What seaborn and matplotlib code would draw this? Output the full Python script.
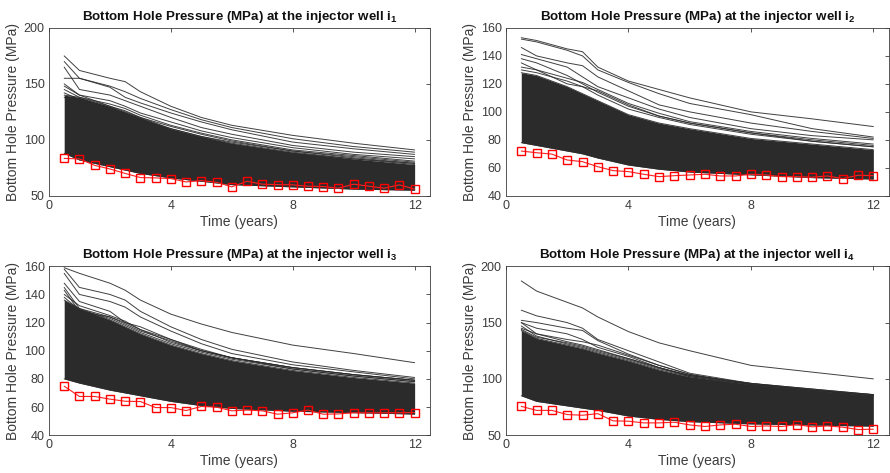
import numpy as np
import pandas as pd
import seaborn as sns
import matplotlib.pyplot as plt

# observed bottom hole pressure (red squares), every half year
t_obs = [0.5, 1, 1.5, 2, 2.5, 3, 3.5, 4, 4.5, 5, 5.5, 6,
         6.5, 7, 7.5, 8, 8.5, 9, 9.5, 10, 10.5, 11, 11.5, 12]
obs_i1 = [83.4, 83.0, 77.2, 74.0, 70.0, 66.3, 66.0, 65.4, 62.4, 63.6, 62.1, 58.0,
          63.0, 60.4, 60.0, 59.8, 58.6, 58.3, 56.8, 60.4, 58.6, 56.8, 59.8, 56.0]
obs_i2 = [72.0, 70.8, 69.8, 65.6, 64.4, 60.8, 58.0, 57.3, 55.4, 53.7, 54.4, 54.9,
          55.4, 54.2, 54.2, 55.4, 54.9, 53.7, 53.7, 53.3, 54.2, 52.3, 54.7, 54.4]
obs_i3 = [74.8, 67.5, 67.5, 65.6, 64.1, 63.9, 59.6, 59.6, 57.5, 60.4, 59.9, 57.3,
          57.8, 57.3, 54.9, 55.9, 57.8, 54.9, 55.1, 55.9, 55.9, 55.9, 55.9, 56.1]
obs_i4 = [75.6, 72.0, 72.0, 68.3, 67.7, 69.1, 62.7, 62.4, 60.9, 60.9, 61.5, 59.1,
          57.7, 59.1, 59.7, 57.7, 58.2, 57.7, 59.4, 57.4, 58.2, 57.1, 55.0, 55.3]

# ensemble of simulated runs: dense band limits + the runs that stand out
ens_t = [0.5, 1, 2, 2.5, 3, 4, 5, 6, 8, 10, 12]

band_lo_i1 = [88, 82, 76, 73, 70, 66, 63, 60, 58, 56, 55]
band_hi_i1 = [140, 138, 130, 125, 120, 110, 103, 97, 89, 83, 78]
runs_i1 = [
    [175, 162, 155, 152, 143, 130, 120, 113, 104, 97, 91],
    [170, 155, 148, 143, 137, 127, 118, 111, 101, 94, 89],
    [155, 155, 147, 138, 133, 124, 116, 109, 98, 92, 87],
    [165, 145, 140, 135, 130, 120, 111, 105, 95, 89, 85],
    [150, 140, 135, 130, 124, 116, 108, 102, 93, 87, 83],
    [145, 138, 132, 128, 122, 113, 106, 100, 91, 86, 81],
    [142, 136, 128, 124, 118, 110, 103, 98, 90, 85, 80],
    [148, 140, 130, 126, 120, 112, 105, 99, 90, 84, 79],
    [138, 134, 127, 122, 117, 108, 102, 96, 88, 83, 79],
]

band_lo_i2 = [78, 76, 72, 70, 67, 62, 59, 57, 55, 53, 52]
band_hi_i2 = [128, 126, 118, 113, 108, 98, 92, 88, 81, 77, 73]
runs_i2 = [
    [153, 151, 145, 143, 132, 122, 116, 110, 100, 95, 89.5],
    [152, 150, 144, 140, 130, 121, 113, 106, 98, 88, 82],
    [146, 140, 135, 133, 125, 115, 105, 100, 92, 86, 81],
    [141, 138, 132, 125, 118, 110, 102, 96, 88, 83, 80],
    [135, 130, 120, 118, 115, 105, 97, 92, 85, 80, 76],
    [130, 128, 122, 118, 112, 102, 96, 91, 84, 79, 75],
    [138, 135, 126, 120, 114, 104, 97, 92, 85, 79, 75],
    [132, 130, 124, 121, 116, 106, 99, 93, 86, 81, 77],
]

band_lo_i3 = [80, 77, 72, 70, 68, 64, 61, 59, 57, 56, 55]
band_hi_i3 = [136, 130, 122, 117, 112, 104, 98, 93, 86, 81, 77]
runs_i3 = [
    [159, 155, 148, 143, 136, 126, 119, 113, 104, 98, 91.5],
    [158, 145, 140, 136, 128, 117, 108, 101, 92, 86, 81],
    [155, 140, 135, 131, 124, 114, 105, 98, 90, 85, 80],
    [148, 135, 128, 120, 115, 108, 101, 95, 88, 83, 79],
    [143, 128, 124, 120, 117, 108, 100, 95, 87, 82, 78],
    [140, 132, 125, 121, 115, 106, 100, 95, 88, 83, 79],
    [145, 130, 124, 119, 114, 107, 100, 95, 88, 83, 79],
    [138, 129, 123, 118, 113, 105, 99, 94, 87, 82, 78],
]

band_lo_i4 = [85, 80, 76, 74, 72, 67, 64, 62, 60, 59, 58]
band_hi_i4 = [143, 136, 130, 127, 123, 116, 108, 102, 95, 90, 85]
runs_i4 = [
    [187, 178, 168, 163, 155, 142, 132, 125, 112, 106, 100],
    [161, 156, 150, 145, 135, 125, 115, 105, 96, 90, 86],
    [152, 150, 145, 143, 134, 122, 112, 104, 95, 90, 85],
    [150, 145, 140, 135, 128, 120, 110, 102, 94, 89, 84],
    [145, 140, 135, 133, 130, 121, 112, 104, 95, 90, 85],
    [147, 138, 131, 128, 124, 117, 109, 103, 96, 91, 86],
    [144, 137, 132, 129, 125, 118, 110, 103, 96, 91, 86],
    [150, 140, 133, 130, 126, 118, 110, 103, 95, 90, 85],
]

wells = [
    ("1", obs_i1, band_lo_i1, band_hi_i1, runs_i1, [50, 100, 150, 200]),
    ("2", obs_i2, band_lo_i2, band_hi_i2, runs_i2, [40, 60, 80, 100, 120, 140, 160]),
    ("3", obs_i3, band_lo_i3, band_hi_i3, runs_i3, [40, 60, 80, 100, 120, 140, 160]),
    ("4", obs_i4, band_lo_i4, band_hi_i4, runs_i4, [50, 100, 150, 200]),
]

sns.set_style("white")
plt.rcParams["font.family"] = ["Liberation Sans", "DejaVu Sans"]
plt.rcParams["mathtext.fontset"] = "custom"
plt.rcParams["mathtext.rm"] = "Liberation Sans"
plt.rcParams["mathtext.bf"] = "Liberation Sans:bold"
plt.rcParams["xtick.direction"] = "in"
plt.rcParams["ytick.direction"] = "in"

fig = plt.figure(figsize=(8.9, 4.73), dpi=100)
positions = [
    [0.055, 0.586, 0.428, 0.355],
    [0.5685, 0.586, 0.430, 0.355],
    [0.055, 0.080, 0.428, 0.357],
    [0.5685, 0.080, 0.430, 0.357],
]

line_col = "#2b2b2b"
for pos, (name, obs, lo, hi, runs, yt) in zip(positions, wells):
    ax = fig.add_axes(pos)

    # dense part of the ensemble
    ax.fill_between(ens_t, lo, hi, color=line_col, lw=0)

    # band edges and outlying runs
    rows = []
    for k, r in enumerate([lo, hi] + runs):
        for tt, v in zip(ens_t, r):
            rows.append({"run": k, "t": tt, "p": v})
    df = pd.DataFrame(rows)
    sns.lineplot(data=df, x="t", y="p", units="run", estimator=None,
                 color=line_col, lw=0.7, alpha=0.9, ax=ax)

    sns.lineplot(x=t_obs, y=obs, color="#ff2020", lw=0.8, marker="s",
                 markersize=6, markerfacecolor="none", markeredgecolor="#ff0000",
                 markeredgewidth=1.0, ax=ax)

    ax.set_xlim(0, 12.5)
    ax.set_ylim(yt[0], yt[-1])
    ax.set_xticks([0, 4, 8, 12])
    ax.set_yticks(yt)
    ax.tick_params(axis="both", which="both", top=True, right=True,
                   length=3, width=0.6, labelsize=9, colors="#3c3c3c",
                   labelcolor="#3c3c3c", pad=3)
    for s in ax.spines.values():
        s.set_linewidth(0.6)
        s.set_color("#3c3c3c")
    ax.set_xlabel("Time (years)", fontsize=10, color="#3c3c3c", labelpad=2)
    ax.set_ylabel("Bottom Hole Pressure (MPa)", fontsize=10, color="#3c3c3c",
                  labelpad=3)
    ax.set_title(r"Bottom Hole Pressure (MPa) at the injector well i$_\mathbf{%s}$" % name,
                 fontsize=9.6, fontweight="bold", color="#111111", pad=6)

plt.savefig("out.png", dpi=100)
